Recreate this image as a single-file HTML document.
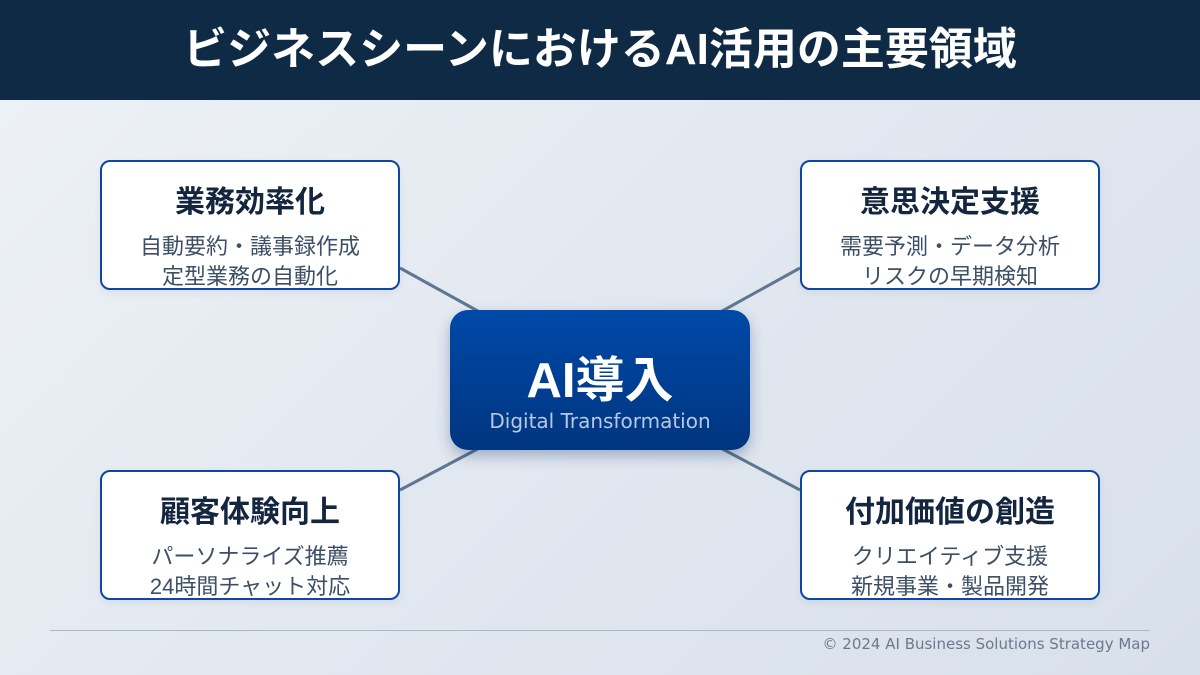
<!DOCTYPE html>
<html><head><meta charset="utf-8"><style>
*{margin:0;padding:0;box-sizing:border-box}
body{width:1200px;height:675px;overflow:hidden;font-family:"Liberation Sans","Noto Sans CJK JP",sans-serif;background:linear-gradient(135deg,#eef2f7 0%,#e2e8f0 50%,#d8e0ea 100%);position:relative}
.hdr{position:absolute;left:0;top:0;width:1200px;height:100px;background:#0f2a45;color:#fff;font-weight:bold;font-size:44px;text-align:center;line-height:100px;letter-spacing:0px}
.box{position:absolute;width:300px;height:130px;background:#fff;border:2px solid #0d47a1;border-radius:10px;text-align:center;box-shadow:0 3px 8px rgba(0,0,0,0.06)}
.box h3{font-size:30px;font-weight:bold;color:#14263f;margin-top:23px;line-height:36px}
.box p{font-size:22px;color:#3d4f66;line-height:30px;margin-top:11px}
.ctr{position:absolute;left:450px;top:310px;width:300px;height:140px;border-radius:18px;background:linear-gradient(180deg,#0049a8,#003580);box-shadow:0 6px 14px rgba(0,40,100,0.3);text-align:center;color:#fff}
.ctr .t{font-size:49px;font-weight:bold;margin-top:43px;line-height:56px}
.ctr .s{font-family:"DejaVu Sans",sans-serif;font-size:20px;color:#b8c8e0;line-height:26px;margin-top:-1px}
.rule{position:absolute;left:50px;top:630px;width:1100px;height:1px;background:#a9b8cc}
.foot{position:absolute;right:50px;top:635px;font-family:"DejaVu Sans",sans-serif;font-size:15px;color:#6a7a8e}
</style></head><body>
<div class="hdr">ビジネスシーンにおけるAI活用の主要領域</div>
<svg style="position:absolute;left:0;top:0" width="1200" height="675">
<g stroke="#5f7790" stroke-width="3">
<line x1="400" y1="268" x2="485" y2="315"/>
<line x1="800" y1="268" x2="715" y2="315"/>
<line x1="400" y1="490" x2="485" y2="445"/>
<line x1="800" y1="490" x2="715" y2="445"/>
</g></svg>
<div class="box" style="left:100px;top:160px"><h3>業務効率化</h3><p>自動要約・議事録作成<br>定型業務の自動化</p></div>
<div class="box" style="left:800px;top:160px"><h3>意思決定支援</h3><p>需要予測・データ分析<br>リスクの早期検知</p></div>
<div class="box" style="left:100px;top:470px"><h3>顧客体験向上</h3><p>パーソナライズ推薦<br>24時間チャット対応</p></div>
<div class="box" style="left:800px;top:470px"><h3>付加価値の創造</h3><p>クリエイティブ支援<br>新規事業・製品開発</p></div>
<div class="ctr"><div class="t">AI導入</div><div class="s">Digital Transformation</div></div>
<div class="rule"></div>
<div class="foot">© 2024 AI Business Solutions Strategy Map</div>
</body></html>
